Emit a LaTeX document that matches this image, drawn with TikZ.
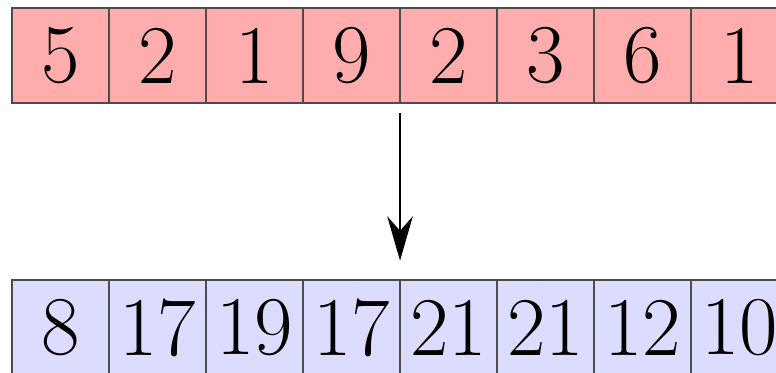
\documentclass[tikz,border=0pt]{standalone}
\usepackage{tikz}
\usetikzlibrary{arrows.meta, positioning}

\definecolor{cellred}{RGB}{255,172,172}
\definecolor{cellblue}{RGB}{220,220,255}

\begin{document}
\begin{tikzpicture}[
    cell/.style={draw=black!70, line width=0.7pt, minimum width=1cm, minimum height=0.98cm,
                 inner sep=0pt, outer sep=0pt, font=\fontsize{24.5}{28}\selectfont},
    >={Stealth[length=13pt, width=7.5pt]}
]
\clip (0,0) rectangle (8,-3.835);
\useasboundingbox (0,0) rectangle (8,-3.835);

% input row
\foreach \v [count=\i] in {5,2,1,9,2,3,6,1}
    \node[cell, fill=cellred] (t\i) at (\i-0.376,-0.572) {\v};

% output row
\foreach \v [count=\i] in {8,17,19,17,21,21,12,10}
    \node[cell, fill=cellblue] (b\i) at (\i-0.376,-3.377) {\v};

% arrow
\draw[->, line width=0.6pt, shorten <=0.1cm, shorten >=0.2cm] (t4.south east) -- (b4.north east);

\end{tikzpicture}
\end{document}
